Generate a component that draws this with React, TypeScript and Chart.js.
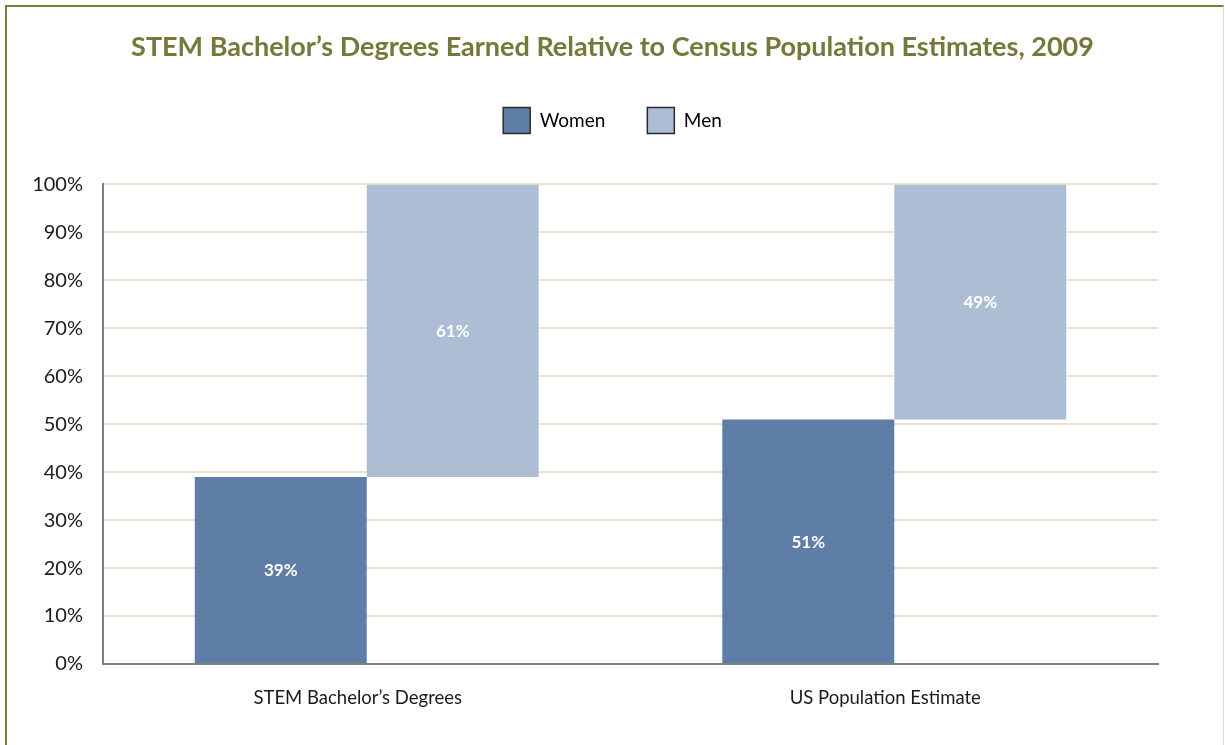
import React, { useEffect, useRef } from "react";
import { Chart, registerables } from "chart.js";

Chart.register(...registerables);

const categories = ["STEM Bachelor’s Degrees", "US Population Estimate"];
const womenShare = [39, 51];
const menShare = [61, 49];
const seriesNames = ["Women", "Men"];
const yTicks = [0, 10, 20, 30, 40, 50, 60, 70, 80, 90, 100];
const titleText = "STEM Bachelor’s Degrees Earned Relative to Census Population Estimates, 2009";

const WOMEN_COLOR = "#5e7ea8";
const MEN_COLOR = "#adbed4";
const FONT = "Lato, 'Open Sans', sans-serif";

const barLabelPlugin = {
  id: "barLabels",
  afterDatasetsDraw(chart: any) {
    const ctx = chart.ctx;
    ctx.save();
    ctx.fillStyle = "#ffffff";
    ctx.font = `bold 17px ${FONT}`;
    ctx.textAlign = "center";
    ctx.textBaseline = "middle";
    chart.data.datasets.forEach((ds: any, di: number) => {
      const meta = chart.getDatasetMeta(di);
      meta.data.forEach((el: any, i: number) => {
        const v = ds.data[i];
        const diff = v[1] - v[0];
        const { x, y, base } = el.getProps(["x", "y", "base"], true);
        ctx.fillText(`${diff}%`, x, (y + base) / 2 + 1);
      });
    });
    ctx.restore();
  },
};

export default function App() {
  const ref = useRef<HTMLCanvasElement | null>(null);

  useEffect(() => {
    if (!ref.current) return;
    const womenData = womenShare.map((v) => [0, v]);
    const menData = menShare.map((v, i) => [womenShare[i], womenShare[i] + v]);
    const chart = new Chart(ref.current, {
      type: "bar",
      data: {
        labels: categories,
        datasets: [
          {
            label: seriesNames[0],
            data: womenData as any,
            backgroundColor: WOMEN_COLOR,
            borderWidth: 0,
            categoryPercentage: 0.652,
            barPercentage: 1,
          },
          {
            label: seriesNames[1],
            data: menData as any,
            backgroundColor: MEN_COLOR,
            borderWidth: 0,
            categoryPercentage: 0.652,
            barPercentage: 1,
          },
        ],
      },
      plugins: [barLabelPlugin],
      options: {
        responsive: false,
        animation: false,
        layout: { padding: 0 },
        plugins: {
          tooltip: { enabled: false },
          title: {
            display: true,
            text: titleText,
            color: "#76773a",
            font: { family: FONT, size: 27, weight: "bold", lineHeight: 1.2 },
            padding: { top: 31, bottom: 2 },
          },
          legend: {
            display: true,
            position: "top",
            labels: {
              boxWidth: 27,
              boxHeight: 26,
              padding: 42,
              color: "#1a1a1a",
              font: { family: FONT, size: 19 },
              generateLabels: (chart: any) =>
                chart.data.datasets.map((ds: any, i: number) => ({
                  text: ds.label,
                  fillStyle: ds.backgroundColor,
                  strokeStyle: "#2b2b2b",
                  lineWidth: 1.5,
                  hidden: false,
                  datasetIndex: i,
                })),
            },
          },
        },
        scales: {
          x: {
            position: "bottom",
            grid: { display: false, drawTicks: false },
            border: { display: true, color: "#7f7f7f", width: 2 },
            ticks: {
              color: "#1a1a1a",
              font: { family: FONT, size: 18.5 },
              padding: 23,
              labelOffset: -9,
            },
            afterFit: (s: any) => {
              s.height = 81;
            },
          },
          xTop: {
            type: "category",
            position: "top",
            display: true,
            grid: { display: false, drawTicks: false },
            border: { display: false },
            ticks: { display: false },
            afterFit: (s: any) => {
              s.height = 41;
            },
          },
          y: {
            min: 0,
            max: 100,
            afterBuildTicks: (s: any) => {
              s.ticks = yTicks.map((v) => ({ value: v }));
            },
            grid: { color: "#e8e4d3", lineWidth: 2, drawTicks: false },
            border: { display: true, color: "#7f7f7f", width: 2 },
            ticks: {
              color: "#1a1a1a",
              font: { family: FONT, size: 20 },
              padding: 20,
              callback: (v: any) => `${v}%`,
            },
            afterFit: (s: any) => {
              s.width = 103;
            },
          },
          yRight: {
            type: "linear",
            position: "right",
            display: true,
            grid: { display: false, drawTicks: false },
            border: { display: false },
            ticks: { display: false },
            afterFit: (s: any) => {
              s.width = 67;
            },
          },
        },
      } as any,
    });
    return () => chart.destroy();
  }, []);

  return (
    <div
      style={{
        position: "absolute",
        left: 0,
        top: 0,
        width: 1225,
        height: 745,
        overflow: "hidden",
        background: "#ffffff",
      }}
    >
      <div
        style={{
          position: "absolute",
          left: 5,
          top: 5,
          width: 1216,
          height: 800,
          borderTop: "2px solid #7b7b3a",
          borderLeft: "2px solid #7b7b3a",
          borderRight: "1px solid #dcdccc",
        }}
      />
      <canvas
        ref={ref}
        width={1225}
        height={745}
        style={{ position: "absolute", left: 0, top: 0 }}
      />
    </div>
  );
}
